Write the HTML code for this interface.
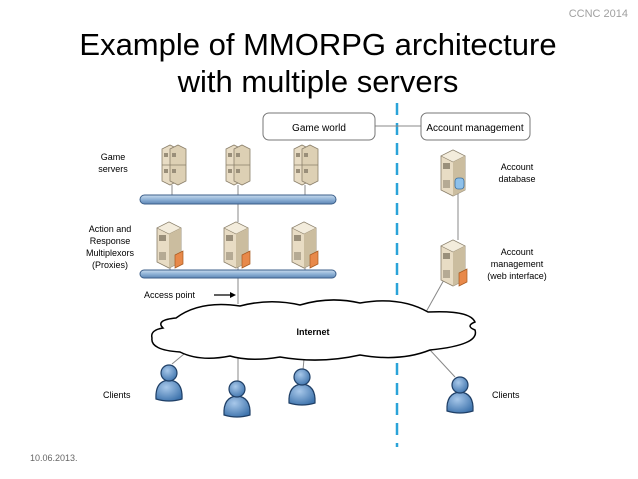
<!DOCTYPE html>
<html><head><meta charset="utf-8"><style>
html,body{margin:0;padding:0;background:#fff;}
svg{display:block}
text{font-family:"Liberation Sans",Arial,sans-serif;}
</style></head><body>
<svg width="638" height="479" viewBox="0 0 638 479" xmlns="http://www.w3.org/2000/svg">
<defs>
<linearGradient id="bus" x1="0" y1="0" x2="0" y2="1"><stop offset="0" stop-color="#c9dcee"/><stop offset="0.5" stop-color="#8fb2d6"/><stop offset="1" stop-color="#5e86b5"/></linearGradient>
<radialGradient id="person" cx="0.4" cy="0.35" r="0.7"><stop offset="0" stop-color="#a8c8ea"/><stop offset="1" stop-color="#3f74ad"/></radialGradient>
<g id="tower">
<path d="M0 6 L12 0 L24 6 L24 40 L12 46 L0 40 Z" fill="#e8dcc4" stroke="#8a7f6a" stroke-width="0.8"/>
<path d="M0 6 L12 0 L24 6 L12 12 Z" fill="#f3ecdc" stroke="#8a7f6a" stroke-width="0.6"/>
<path d="M12 12 L24 6 L24 40 L12 46 Z" fill="#cbbd9f"/>
<rect x="2" y="13" width="7" height="6" fill="#9a8f7a"/>
<rect x="2" y="30" width="7" height="8" fill="#b5aa94"/>
</g>
<g id="stack">
<path d="M0 4 L8 0 L16 4 L16 36 L8 40 L0 36 Z" fill="#e8dcc4" stroke="#8a7f6a" stroke-width="0.8"/>
<path d="M8 4 L16 0 L24 4 L24 36 L16 40 L8 36 Z" fill="#ddd0b4" stroke="#8a7f6a" stroke-width="0.8"/>
<line x1="0" y1="20" x2="24" y2="20" stroke="#8a7f6a" stroke-width="0.8"/>
<rect x="2" y="8" width="4" height="4" fill="#9a8f7a"/><rect x="2" y="24" width="4" height="4" fill="#9a8f7a"/>
<rect x="10" y="8" width="4" height="4" fill="#9a8f7a"/><rect x="10" y="24" width="4" height="4" fill="#9a8f7a"/>
</g>
<g id="proxy"><use href="#tower"/><path d="M18 33 L26 29 L26 42 L18 46 Z" fill="#e8894a" stroke="#a85a20" stroke-width="0.7"/></g>
<g id="user">
<path d="M-13 26 Q-14 8 0 7 Q14 8 13 26 Q0 30 -13 26 Z" fill="url(#person)" stroke="#1f3f66" stroke-width="1.2"/>
<circle cx="0" cy="0" r="8" fill="url(#person)" stroke="#1f3f66" stroke-width="1.2"/>
</g>
</defs>

<text x="628" y="17" font-size="11" fill="#a0a0a0" text-anchor="end">CCNC 2014</text>
<text x="318" y="55" font-size="31" text-anchor="middle" fill="#000">Example of MMORPG architecture</text>
<text x="318" y="92" font-size="31" text-anchor="middle" fill="#000">with multiple servers</text>
<text x="30" y="461" font-size="9" fill="#666">10.06.2013.</text>

<line x1="397" y1="103" x2="397" y2="447" stroke="#2aa3d8" stroke-width="2.5" stroke-dasharray="12,8"/>

<line x1="375" y1="126" x2="421" y2="126" stroke="#888" stroke-width="1"/>
<rect x="263" y="113" width="112" height="27" rx="6" fill="#fff" stroke="#777" stroke-width="1"/>
<text x="319" y="131" font-size="10" text-anchor="middle">Game world</text>
<rect x="421" y="113" width="109" height="27" rx="6" fill="#fff" stroke="#777" stroke-width="1"/>
<text x="475" y="131" font-size="10" text-anchor="middle">Account management</text>

<text x="113" y="160" font-size="9" text-anchor="middle">Game</text>
<text x="113" y="172" font-size="9" text-anchor="middle">servers</text>
<text x="110" y="232" font-size="9" text-anchor="middle">Action and</text>
<text x="110" y="244" font-size="9" text-anchor="middle">Response</text>
<text x="110" y="256" font-size="9" text-anchor="middle">Multiplexors</text>
<text x="110" y="268" font-size="9" text-anchor="middle">(Proxies)</text>

<g stroke="#888" stroke-width="1">
<line x1="172" y1="185" x2="172" y2="196"/><line x1="238" y1="185" x2="238" y2="196"/><line x1="305" y1="185" x2="305" y2="196"/>
<line x1="238" y1="204" x2="238" y2="222"/>
<line x1="170" y1="265" x2="170" y2="271"/><line x1="238" y1="265" x2="238" y2="271"/><line x1="305" y1="265" x2="305" y2="271"/>
<line x1="238" y1="278" x2="238" y2="304"/>
<line x1="458" y1="185" x2="458" y2="240"/>
<line x1="445" y1="278" x2="426" y2="312"/>
<line x1="184" y1="354" x2="172" y2="364"/>
<line x1="238" y1="356" x2="238" y2="382"/>
<line x1="304" y1="359" x2="303" y2="370"/>
<line x1="430" y1="350" x2="455" y2="377"/>
</g>

<use href="#stack" x="162" y="145"/><use href="#stack" x="226" y="145"/><use href="#stack" x="294" y="145"/>
<rect x="140" y="195" width="196" height="9" rx="4.5" fill="url(#bus)" stroke="#3c5f8a" stroke-width="1"/>
<use href="#proxy" x="157" y="222"/><use href="#proxy" x="224" y="222"/><use href="#proxy" x="292" y="222"/>
<rect x="140" y="270" width="196" height="8" rx="4" fill="url(#bus)" stroke="#3c5f8a" stroke-width="1"/>

<use href="#tower" x="441" y="150"/>
<rect x="455" y="178" width="9" height="11" rx="3" fill="#8ec1ea" stroke="#3c6f9e" stroke-width="0.8"/>
<use href="#proxy" x="441" y="240"/>
<text x="517" y="170" font-size="9" text-anchor="middle">Account</text>
<text x="517" y="182" font-size="9" text-anchor="middle">database</text>
<text x="517" y="255" font-size="9" text-anchor="middle">Account</text>
<text x="517" y="267" font-size="9" text-anchor="middle">management</text>
<text x="517" y="279" font-size="9" text-anchor="middle">(web interface)</text>

<text x="144" y="298" font-size="9">Access point</text>
<line x1="214" y1="295" x2="233" y2="295" stroke="#000" stroke-width="1.3"/>
<path d="M236 295 L230 292 L230 298 Z" fill="#000"/>

<path d="M176 318 Q200 300 240 306 Q270 298 300 305 Q330 296 360 303 Q400 296 428 312 Q470 310 475 322 Q465 326 475 330 Q480 345 430 350 Q400 362 360 355 Q320 364 280 357 Q250 362 230 356 Q200 362 180 352 Q150 350 152 338 Q150 330 163 328 Q155 320 176 318 Z" fill="#fff" stroke="#000" stroke-width="1.5"/>
<text x="313" y="335" font-size="9" font-weight="bold" text-anchor="middle">Internet</text>

<use href="#user" x="169" y="373"/><use href="#user" x="237" y="389"/><use href="#user" x="302" y="377"/><use href="#user" x="460" y="385"/>
<text x="103" y="398" font-size="9">Clients</text>
<text x="492" y="398" font-size="9">Clients</text>
</svg>
</body></html>
